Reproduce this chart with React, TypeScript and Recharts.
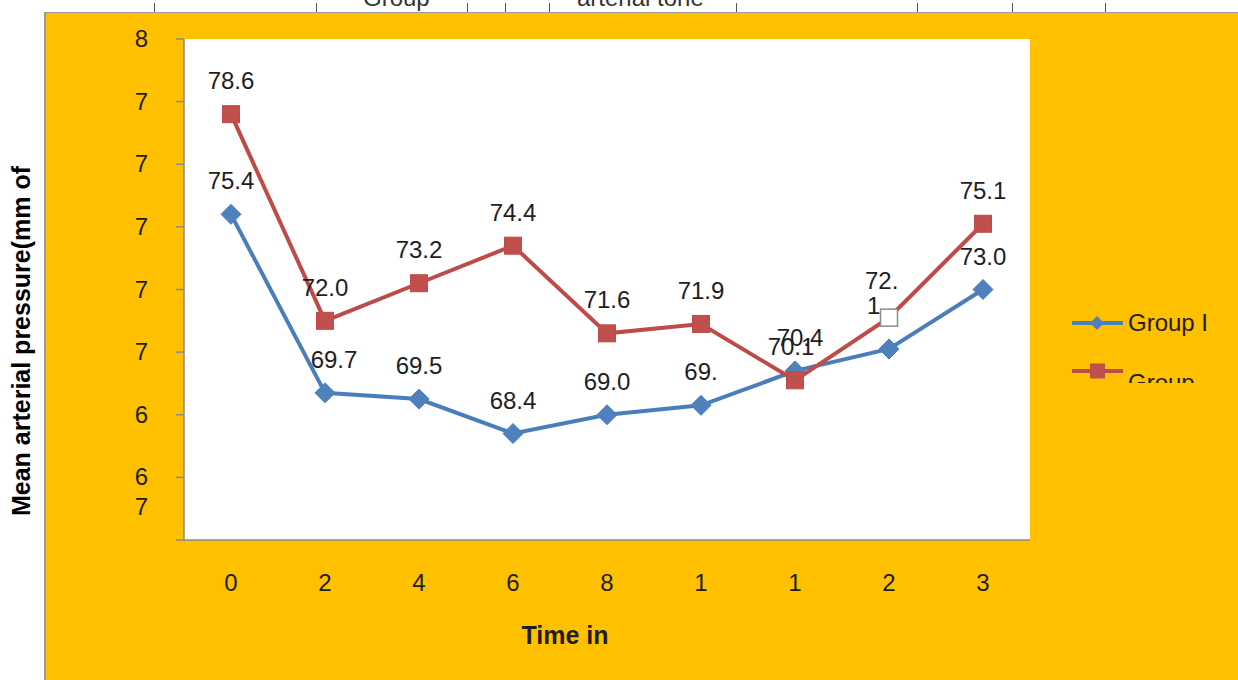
import React from 'react';
import { LineChart, Line, XAxis, YAxis, CartesianGrid, LabelList } from 'recharts';

// values (tick labels are truncated in the original)
const timeLabels = ['0', '2', '4', '6', '8', '1', '1', '2', '3'];
const groupI = [75.4, 69.7, 69.5, 68.4, 69.0, 69.3, 70.4, 71.1, 73.0];
const groupII = [78.6, 72.0, 73.2, 74.4, 71.6, 71.9, 70.1, 72.1, 75.1];
const groupILabels = ['75.4', '69.7', '69.5', '68.4', '69.0', '69.', '70.4', '', '73.0'];
const groupIILabels = ['78.6', '72.0', '73.2', '74.4', '71.6', '71.9', '70.1', '72.|1', '75.1'];
const yTicks = [65, 67, 69, 71, 73, 75, 77, 79, 81];
const yTickLabels = ['', '6|7', '6', '7', '7', '7', '7', '7', '8'];
const legendNames = ['Group I', 'Group'];
const headerTexts = ['Group', 'arterial tone'];

const data = timeLabels.map((t, i) => ({ idx: i, time: t, g1: groupI[i], g2: groupII[i] }));
const bounds = timeLabels.map((_, i) => i).concat(timeLabels.length);

const BLUE = '#4A7EBB';
const BLUE_FILL = '#4F81BD';
const RED = '#BE4B48';
const RED_FILL = '#C0504D';
const ORANGE = '#FFC000';
const TEXT = '#1e1e1e';
const AXIS = '#8a8a8a';
const FONT = '"Liberation Sans", Arial, sans-serif';

const DiamondDot = (props: any) => {
  const { cx, cy, index } = props;
  if (cx == null || cy == null) return null;
  const r = 10;
  return (
    <polygon
      key={`d-${index}`}
      points={`${cx},${cy - r} ${cx + r},${cy} ${cx},${cy + r} ${cx - r},${cy}`}
      fill={BLUE_FILL}
      stroke={BLUE}
      strokeWidth={1}
    />
  );
};

const SquareDot = (props: any) => {
  const { cx, cy, index } = props;
  if (cx == null || cy == null) return null;
  const s = 17;
  // the 8th marker is drawn hollow in the original
  const hollow = index === 7;
  return (
    <rect
      key={`s-${index}`}
      x={cx - s / 2}
      y={cy - s / 2}
      width={s}
      height={s}
      fill={hollow ? '#fff' : RED_FILL}
      stroke={hollow ? '#8c8c8c' : RED}
      strokeWidth={hollow ? 1.5 : 1}
    />
  );
};

const makeLabel = (labels: string[], nudge: Record<number, [number, number]>) => (props: any) => {
  const { x, y, index } = props;
  const text = labels[index];
  if (!text || x == null || y == null) return null;
  const [dx, dy] = nudge[index] || [0, 0];
  const lines = text.split('|');
  if (lines.length > 1) {
    return (
      <text key={`l-${index}`} x={x + dx} y={y + dy} fontSize={24} fill={TEXT} fontFamily={FONT} textAnchor="start">
        {lines.map((ln, i) => (
          <tspan key={i} x={x + dx + (i ? 2 : 0)} dy={i ? 25 : 0}>{ln}</tspan>
        ))}
      </text>
    );
  }
  return (
    <text key={`l-${index}`} x={x + dx} y={y - 25 + dy} fontSize={24} fill={TEXT} fontFamily={FONT} textAnchor="middle">
      {text}
    </text>
  );
};

const YTick = (props: any) => {
  const { x, y, index } = props;
  const lines = (yTickLabels[index] || '').split('|');
  return (
    <text x={x} y={y} textAnchor="end" fontSize={24} fill={TEXT} fontFamily={FONT}>
      {lines.map((ln, i) => (
        <tspan key={i} x={x} dy={i === 0 ? 8 : 30}>{ln}</tspan>
      ))}
    </text>
  );
};

const LegendBox = () => (
  <div style={{ position: 'absolute', left: 1070, top: 305, width: 168, height: 78, overflow: 'hidden', fontFamily: FONT, fontSize: 24, color: TEXT }}>
    {legendNames.map((name, i) => (
      <div key={name} style={{ position: 'absolute', left: 0, top: i * 48, height: 36, display: 'flex', alignItems: 'center' }}>
        <svg width={56} height={36} style={{ flex: 'none' }}>
          <line x1={2} x2={53} y1={18} y2={18} stroke={i === 0 ? BLUE : RED} strokeWidth={4} />
          {i === 0 ? (
            <polygon points="27,11 34,18 27,25 20,18" fill={BLUE_FILL} />
          ) : (
            <rect x={20} y={10.5} width={15} height={15} fill={RED_FILL} />
          )}
        </svg>
        <span style={{ marginLeft: 2, marginTop: i === 0 ? 0 : 24, whiteSpace: 'nowrap' }}>{name}</span>
      </div>
    ))}
  </div>
);

const headerTicks = [154, 316, 467, 505, 549, 736, 917, 1012, 1105];
const headerPos = [363, 577];

const App: React.FC = () => {
  return (
    <div style={{ position: 'absolute', left: 0, top: 0, width: 1238, height: 680, background: '#fff', overflow: 'hidden', fontFamily: FONT }}>
      {/* clipped table row above the chart */}
      <div style={{ position: 'absolute', left: 0, top: 0, width: 1238, height: 12, overflow: 'hidden' }}>
        {headerTicks.map((hx) => (
          <div key={hx} style={{ position: 'absolute', left: hx, top: 3, width: 1, height: 9, background: '#555' }} />
        ))}
        {headerTexts.map((t, i) => (
          <div key={t} style={{ position: 'absolute', left: headerPos[i], top: -14, fontSize: 24, lineHeight: '24px', color: '#333', whiteSpace: 'nowrap' }}>
            {t}
          </div>
        ))}
      </div>
      <div style={{ position: 'absolute', left: 44, top: 12, right: 0, bottom: 0, background: ORANGE, borderLeft: '2px solid #9a9a9a', borderTop: '1px solid #9a9a9a' }} />

      <div style={{ position: 'absolute', left: 0, top: 0 }}>
        <LineChart width={1238} height={680} data={data} margin={{ top: 39, right: 208, bottom: 39, left: 124 }}>
          <CartesianGrid horizontal={false} vertical={false} fill="#fff" />
          <XAxis
            xAxisId="bounds"
            type="number"
            dataKey="idx"
            domain={[0, timeLabels.length]}
            ticks={bounds}
            tick={false}
            axisLine={false}
            tickLine={{ stroke: AXIS, strokeWidth: 1.5 }}
            tickSize={7}
            height={1}
          />
          <XAxis
            dataKey="time"
            allowDuplicatedCategory
            height={100}
            padding={{ left: 47, right: 47 }}
            axisLine={{ stroke: AXIS, strokeWidth: 1.5 }}
            tickLine={false}
            tickSize={0}
            tickMargin={34}
            tick={{ fontSize: 24, fill: TEXT, fontFamily: FONT }}
            interval={0}
            label={(p: any) => {
              const vb = p.viewBox || {};
              return (
                <text x={vb.x + vb.width / 2 - 42} y={vb.y + 104} textAnchor="middle" fontSize={25} fontWeight="bold" fill={TEXT} fontFamily={FONT}>
                  Time in
                </text>
              );
            }}
          />
          <YAxis
            width={60}
            type="number"
            domain={[65, 81]}
            ticks={yTicks}
            interval={0}
            axisLine={{ stroke: AXIS, strokeWidth: 1.5 }}
            tickLine={{ stroke: AXIS, strokeWidth: 1.5 }}
            tickSize={8}
            tickMargin={28}
            tick={<YTick />}
            label={() => (
              <text x={30} y={341} transform="rotate(-90 30 341)" textAnchor="middle" fontSize={25} fontWeight="bold" fill="#000" fontFamily={FONT}>
                Mean arterial pressure(mm of
              </text>
            )}
          />
          <Line
            dataKey="g1"
            stroke={BLUE}
            strokeWidth={4}
            dot={DiamondDot}
            activeDot={false}
            isAnimationActive={false}
          >
            <LabelList dataKey="g1" content={makeLabel(groupILabels, { 1: [9, 0], 6: [5, 0] })} />
          </Line>
          <Line
            dataKey="g2"
            stroke={RED}
            strokeWidth={4}
            dot={SquareDot}
            activeDot={false}
            isAnimationActive={false}
          >
            <LabelList dataKey="g2" content={makeLabel(groupIILabels, { 6: [-4, 0], 7: [-24, -29] })} />
          </Line>
        </LineChart>
      </div>
      <LegendBox />
    </div>
  );
};

export default App;
